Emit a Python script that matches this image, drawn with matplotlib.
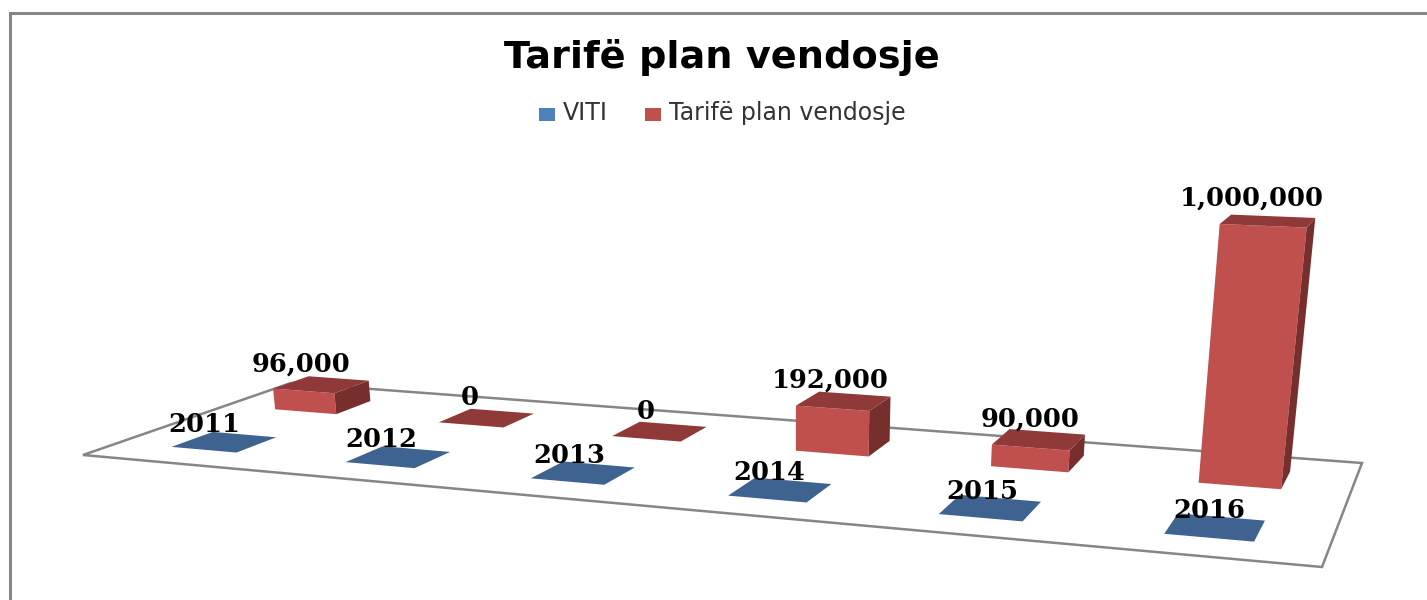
#!/usr/bin/env python3
"""Tarife plan vendosje: 3D-look bar chart, drawn through a small perspective projection."""

import matplotlib
matplotlib.use('Agg')
import matplotlib.pyplot as plt
from matplotlib.patches import Polygon, Rectangle

YEARS = [2011, 2012, 2013, 2014, 2015, 2016]
TARIFF = [96000, 0, 0, 192000, 90000, 1000000]
YEAR_LABELS = ["2011", "2012", "2013", "2014", "2015", "2016"]
TARIFF_LABELS = ["96,000", "0", "0", "192,000", "90,000", "1,000,000"]
TITLE = "Tarifë plan vendosje"
LEGEND = ["VITI", "Tarifë plan vendosje"]

# floor corners in pixels: front-left, front-right, back-right, back-left
P0, P1, P2, P3 = (83, 455), (1322, 567), (1362, 463), (291, 383)
VANISH = (790, 5500)     # vertical vanishing point, below the picture
VALUE_SCALE = 0.0464 / 1000000
BAR_FRAC = 0.38

GREY = "#868686"
RED = {"front": "#C0504D", "top": "#8F3A38", "side": "#772F2D"}
BLUE_FLAT = "#3E6391"


def make_floor():
    """Homography from the unit square (u along years, v in depth) to the floor quad."""
    dx1, dy1 = P1[0] - P2[0], P1[1] - P2[1]
    dx2, dy2 = P3[0] - P2[0], P3[1] - P2[1]
    sx = P0[0] - P1[0] + P2[0] - P3[0]
    sy = P0[1] - P1[1] + P2[1] - P3[1]
    det = dx1 * dy2 - dx2 * dy1
    g = (sx * dy2 - dx2 * sy) / det
    h = (dx1 * sy - sx * dy1) / det
    return (
        (P1[0] * (1 + g) - P0[0], P3[0] * (1 + h) - P0[0], P0[0]),
        (P1[1] * (1 + g) - P0[1], P3[1] * (1 + h) - P0[1], P0[1]),
        (g, h, 1.0),
    )


ROW_X, ROW_Y, ROW_W = make_floor()


def project(u, v, value=0):
    w = ROW_W[0] * u + ROW_W[1] * v + ROW_W[2]
    x = ROW_X[0] * u + ROW_X[1] * v + ROW_X[2]
    y = ROW_Y[0] * u + ROW_Y[1] * v + ROW_Y[2]
    t = value * VALUE_SCALE
    return (x - t * VANISH[0]) / (w - t), (y - t * VANISH[1]) / (w - t)


def bar_box(idx, series):
    half_u = BAR_FRAC / 6 / 2
    half_v = BAR_FRAC / 2 / 2
    uc = (idx + 0.5) / 6
    vc = 0.25 + 0.5 * series
    return uc - half_u, uc + half_u, vc - half_v, vc + half_v, uc, vc


def draw_flat(ax, idx, series, color):
    u0, u1, v0, v1, _, _ = bar_box(idx, series)
    pts = [project(u0, v0), project(u1, v0), project(u1, v1), project(u0, v1)]
    ax.add_patch(Polygon(pts, closed=True, facecolor=color, edgecolor="none", zorder=3))


def draw_bar(ax, idx, series, value, colors):
    u0, u1, v0, v1, _, _ = bar_box(idx, series)
    front = [project(u0, v0), project(u1, v0), project(u1, v0, value), project(u0, v0, value)]
    side = [project(u1, v0), project(u1, v1), project(u1, v1, value), project(u1, v0, value)]
    top = [project(u0, v0, value), project(u1, v0, value), project(u1, v1, value), project(u0, v1, value)]
    for pts, key in ((front, "front"), (side, "side"), (top, "top")):
        ax.add_patch(Polygon(pts, closed=True, facecolor=colors[key], edgecolor="none", zorder=3 + idx * 0.01))


def bar_label(ax, idx, series, value, text):
    _, _, _, _, uc, vc = bar_box(idx, series)
    x, y = project(uc, vc, value)
    # labels sit up and to the left of the bar centre
    dx = -21 + 17 * uc - value * 11e-6
    dy = -20 - value * 3e-6 if series else -18 + 2 * uc
    ax.text(x + dx, y + dy, text, ha="center", va="center", color="black",
            family="DejaVu Serif", fontweight="bold", fontsize=18.5, zorder=6)


def main():
    fig = plt.figure(figsize=(14.27, 6.0), dpi=100)
    ax = fig.add_axes([0, 0, 1, 1])
    ax.set_xlim(0, 1427)
    ax.set_ylim(600, 0)
    ax.axis("off")

    # chart frame, runs off the picture on the right and at the bottom
    ax.plot([9.5, 9.5, 1427], [600, 13, 13], color=GREY, lw=2.2, solid_joinstyle="miter")

    # floor
    ax.add_patch(Polygon([P0, P1, P2, P3], closed=True, facecolor="white", edgecolor=GREY, lw=1.8, zorder=2))

    for i, year in enumerate(YEARS):
        draw_flat(ax, i, 0, BLUE_FLAT)
        if TARIFF[i] == 0:
            draw_flat(ax, i, 1, RED["top"])
        else:
            draw_bar(ax, i, 1, TARIFF[i], RED)
        bar_label(ax, i, 0, 0, YEAR_LABELS[i])
        bar_label(ax, i, 1, TARIFF[i], TARIFF_LABELS[i])

    ax.text(721.5, 68, TITLE, ha="center", va="baseline", family="DejaVu Sans", fontweight="bold",
            fontsize=27.5, color="black")

    # legend
    ax.add_patch(Rectangle((539, 108), 16, 13, facecolor="#4F81BD", edgecolor="none"))
    ax.text(563, 120, LEGEND[0], ha="left", va="baseline", family="DejaVu Sans", fontsize=17, color="#333333")
    ax.add_patch(Rectangle((645, 108), 16, 13, facecolor=RED["front"], edgecolor="none"))
    ax.text(669, 120, LEGEND[1], ha="left", va="baseline", family="DejaVu Sans", fontsize=17, color="#333333")

    fig.savefig("out.png", dpi=100)


if __name__ == "__main__":
    main()
